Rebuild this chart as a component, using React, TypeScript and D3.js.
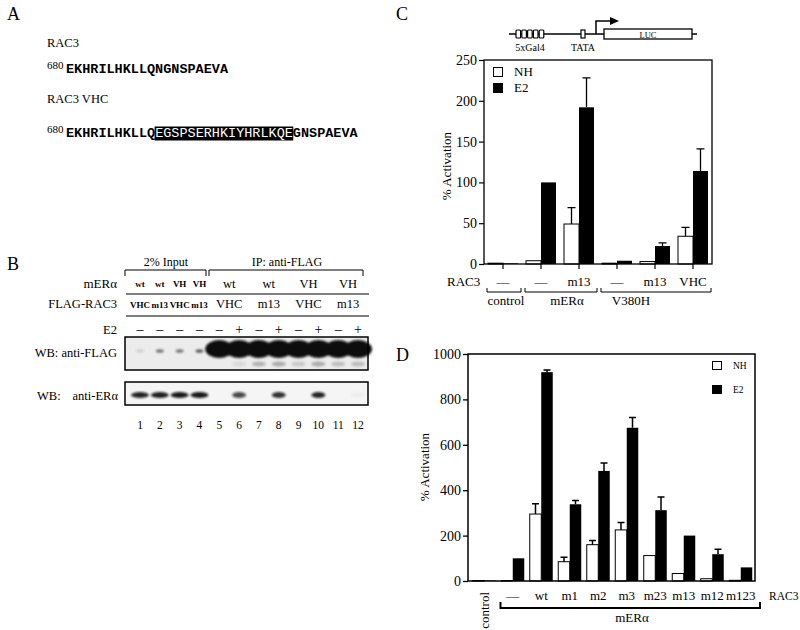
import * as d3 from "d3";
import { useEffect, useRef } from "react";

const SERIF = "'Liberation Serif', 'Times New Roman', serif";
const MONO = "'Liberation Mono', 'Courier New', monospace";

// panel A: sequences
const seqWild = "EKHRILHKLLQNGNSPAEVA";
const seqVhcHead = "EKHRILHKLLQ";
const seqVhcInsert = "EGSPSERHKIYHRLKQE";
const seqVhcTail = "GNSPAEVA";

// panel B: blot layout
const laneNumbers = [1, 2, 3, 4, 5, 6, 7, 8, 9, 10, 11, 12];
const smallMer = ["wt", "wt", "VH", "VH"];
const smallFlag = ["VHC", "m13", "VHC", "m13"];
const pairMer = ["wt", "wt", "VH", "VH"];
const pairFlag = ["VHC", "m13", "VHC", "m13"];
const e2Signs = ["–", "–", "–", "–", "–", "+", "–", "+", "–", "+", "–", "+"];
const flagBandLevels = [0.12, 0.5, 0.5, 0.6, 1, 1, 1, 1, 1, 1, 1, 1];
const flagSmearLevels = [0, 0, 0, 0, 0, 0.1, 0.3, 0.35, 0.2, 0.35, 0.25, 0.25];
const erBandLevels = [0.9, 0.92, 0.95, 0.95, 0, 0.75, 0, 0.85, 0, 0.9, 0, 0.03];

// panel C
const cGroups = ["ctl", "mer-", "mer-m13", "v-", "v-m13", "v-vhc"];
const cRac3 = ["—", "—", "m13", "—", "m13", "VHC"];
const cNH = [1, 4, 49, 1, 3, 34];
const cNHErr = [0, 0, 69, 0, 0, 45];
const cE2 = [0.8, 100, 192, 4, 22, 114];
const cE2Err = [0, 0, 228, 0, 26, 141];
const cTicks = [0, 50, 100, 150, 200, 250];

// panel D
const dGroups = ["control", "—", "wt", "m1", "m2", "m3", "m23", "m13", "m12", "m123"];
const dNH = [2, 2, 295, 85, 160, 225, 112, 33, 10, 3];
const dNHErr = [0, 0, 340, 105, 178, 258, 0, 0, 0, 0];
const dE2 = [2, 100, 920, 338, 485, 675, 312, 200, 118, 60];
const dE2Err = [0, 0, 930, 355, 520, 720, 370, 0, 140, 0];
const dTicks = [0, 200, 400, 600, 800, 1000];

function txt(g: any, x: number, y: number, s: string, size: number, anchor = "start") {
	return g
		.append("text")
		.attr("x", x)
		.attr("y", y)
		.attr("font-family", SERIF)
		.attr("font-size", size)
		.attr("text-anchor", anchor)
		.attr("fill", "#000")
		.text(s);
}

function drawPanelA(svg: any) {
	txt(svg, 7, 20, "A", 18);
	txt(svg, 47, 47, "RAC3", 12.5);
	txt(svg, 47, 69, "680", 11);
	svg.append("text")
		.attr("x", 66)
		.attr("y", 72.5)
		.attr("font-family", MONO)
		.attr("font-weight", "bold")
		.attr("font-size", 13.5)
		.text(seqWild);

	txt(svg, 47, 103, "RAC3 VHC", 12.5);
	txt(svg, 47, 133, "680", 11);
	const charW = 8.1;
	const insX = 66 + seqVhcHead.length * charW;
	svg.append("rect")
		.attr("x", insX - 0.5)
		.attr("y", 126.5)
		.attr("width", seqVhcInsert.length * charW + 1)
		.attr("height", 14)
		.attr("fill", "#000");
	const t = svg
		.append("text")
		.attr("x", 66)
		.attr("y", 137)
		.attr("font-family", MONO)
		.attr("font-weight", "bold")
		.attr("font-size", 13.5);
	t.append("tspan").text(seqVhcHead);
	t.append("tspan").attr("fill", "#fff").attr("font-weight", "normal").text(seqVhcInsert);
	t.append("tspan").text(seqVhcTail);
}

function drawPanelB(svg: any) {
	const xL = d3.scaleLinear().domain([1, 12]).range([140, 358]);
	const step = xL(2) - xL(1);

	txt(svg, 7, 270, "B", 18);
	txt(svg, 166, 266, "2% Input", 12, "middle");
	txt(svg, 287, 266, "IP: anti-FLAG", 12, "middle");
	const brackets = [
		[125, 206],
		[209, 363],
	];
	brackets.forEach(([a, b]) => {
		svg.append("path")
			.attr("d", `M${a},276V270H${b}V276`)
			.attr("fill", "none")
			.attr("stroke", "#000")
			.attr("stroke-width", 1);
	});

	// row labels
	const mer = txt(svg, 117, 288, "mER", 13, "end");
	mer.append("tspan").text("α");
	txt(svg, 117, 308, "FLAG-RAC3", 12.5, "end");
	txt(svg, 117, 334, "E2", 12.5, "end");

	svg.append("line").attr("x1", 126).attr("x2", 369).attr("y1", 294).attr("y2", 294).attr("stroke", "#000").attr("stroke-width", 1.2);
	svg.append("line").attr("x1", 126).attr("x2", 369).attr("y1", 316).attr("y2", 316).attr("stroke", "#000").attr("stroke-width", 1.2);

	smallMer.forEach((s, i) => {
		txt(svg, xL(i + 1), 287, s, 9, "middle").attr("font-weight", "bold");
	});
	smallFlag.forEach((s, i) => {
		txt(svg, xL(i + 1), 308, s, 9, "middle").attr("font-weight", "bold");
	});
	pairMer.forEach((s, i) => {
		txt(svg, xL(5 + i * 2) + step / 2, 288, s, 12.5, "middle");
	});
	pairFlag.forEach((s, i) => {
		txt(svg, xL(5 + i * 2) + step / 2, 308, s, 12.5, "middle");
	});
	e2Signs.forEach((s, i) => {
		txt(svg, xL(i + 1), 334, s, 14, "middle");
	});

	const defs = svg.append("defs");
	defs.append("filter")
		.attr("id", "blur")
		.attr("x", "-50%")
		.attr("y", "-50%")
		.attr("width", "200%")
		.attr("height", "200%")
		.append("feGaussianBlur")
		.attr("stdDeviation", 1.2);

	// anti-FLAG blot
	txt(svg, 117, 357, "WB: anti-FLAG", 12.5, "end");
	svg.append("rect").attr("x", 125).attr("y", 337).attr("width", 243).attr("height", 33).attr("fill", "#ececec");
	const fb = svg.append("g").attr("filter", "url(#blur)");
	flagBandLevels.forEach((v, i) => {
		const big = v >= 1;
		fb.append("ellipse")
			.attr("cx", xL(i + 1))
			.attr("cy", big ? 349 : 351)
			.attr("rx", big ? 14 : 4)
			.attr("ry", big ? 9 : 1.8)
			.attr("fill", "#0a0a0a")
			.attr("opacity", v);
	});
	flagSmearLevels.forEach((v, i) => {
		if (v <= 0) return;
		fb.append("ellipse")
			.attr("cx", xL(i + 1))
			.attr("cy", 364)
			.attr("rx", 7)
			.attr("ry", 2.5)
			.attr("fill", "#333")
			.attr("opacity", v);
	});
	svg.append("rect").attr("x", 125).attr("y", 337).attr("width", 243).attr("height", 33).attr("fill", "none").attr("stroke", "#000").attr("stroke-width", 1.5);

	// anti-ERa blot
	txt(svg, 37, 400, "WB:", 12.5);
	const er = txt(svg, 118, 400, "anti-ER", 12.5, "end");
	er.append("tspan").text("α");
	svg.append("rect").attr("x", 125).attr("y", 382).attr("width", 243).attr("height", 23).attr("fill", "#f5f5f5");
	const eb = svg.append("g").attr("filter", "url(#blur)");
	erBandLevels.forEach((v, i) => {
		if (v <= 0) return;
		eb.append("ellipse")
			.attr("cx", xL(i + 1))
			.attr("cy", 395)
			.attr("rx", i < 4 ? 9 : 7)
			.attr("ry", 3)
			.attr("fill", "#111")
			.attr("opacity", v);
	});
	svg.append("rect").attr("x", 125).attr("y", 382).attr("width", 243).attr("height", 23).attr("fill", "none").attr("stroke", "#000").attr("stroke-width", 1.5);

	laneNumbers.forEach((n) => {
		txt(svg, xL(n), 429, String(n), 11.5, "middle");
	});
}

function drawPanelC(svg: any) {
	const x = d3.scaleBand().domain(cGroups).range([484, 712]);
	const y = d3.scaleLinear().domain([0, 250]).range([264, 60]);
	const bw = 15;
	const center = (g: string) => (x(g) as number) + x.bandwidth() / 2;

	txt(svg, 396, 20, "C", 18);

	// promoter diagram
	const pr = svg.append("g").attr("stroke", "#000").attr("fill", "#fff");
	pr.append("line").attr("x1", 509).attr("x2", 697).attr("y1", 34).attr("y2", 34).attr("stroke-width", 1.5);
	for (let i = 0; i < 5; i++) {
		pr.append("rect").attr("x", 516 + i * 5.8).attr("y", 30).attr("width", 4.6).attr("height", 8).attr("rx", 1).attr("stroke-width", 1.2);
	}
	pr.append("rect").attr("x", 581).attr("y", 30).attr("width", 4).attr("height", 8).attr("stroke-width", 1.2);
	pr.append("rect").attr("x", 604).attr("y", 29).attr("width", 88).attr("height", 10).attr("stroke-width", 1.3);
	pr.append("path").attr("d", "M596,34V21H611").attr("fill", "none").attr("stroke-width", 1.5);
	svg.append("path").attr("d", "M610,17L619,21L610,25Z").attr("fill", "#000");
	txt(svg, 530, 51, "5xGal4", 10, "middle");
	txt(svg, 583, 51, "TATA", 10, "middle");
	txt(svg, 648, 37.5, "LUC", 8.5, "middle");

	// axis
	const ax = svg
		.append("g")
		.attr("transform", "translate(484,0)")
		.call(d3.axisLeft(y).tickValues(cTicks).tickFormat(d3.format("d")).tickSize(5).tickSizeOuter(0).tickPadding(2));
	ax.selectAll("text").attr("font-family", SERIF).attr("font-size", 14).attr("fill", "#000");
	ax.selectAll("line").attr("stroke-width", 1.2);
	ax.select(".domain").remove();

	svg.append("text")
		.attr("transform", "translate(451,166) rotate(-90)")
		.attr("text-anchor", "middle")
		.attr("font-family", SERIF)
		.attr("font-size", 13)
		.text("% Activation");

	// legend
	svg.append("rect").attr("x", 493.5).attr("y", 67.5).attr("width", 9).attr("height", 9).attr("fill", "#fff").attr("stroke", "#000");
	svg.append("rect").attr("x", 493).attr("y", 83).attr("width", 10).attr("height", 10).attr("fill", "#000");
	txt(svg, 514, 76, "NH", 13);
	txt(svg, 514, 92, "E2", 13);

	// bars
	cGroups.forEach((g, i) => {
		const c = center(g);
		svg.append("rect").attr("x", c - bw).attr("y", y(cNH[i])).attr("width", bw).attr("height", y(0) - y(cNH[i])).attr("fill", "#fff").attr("stroke", "#000").attr("stroke-width", 1);
		svg.append("rect").attr("x", c).attr("y", y(cE2[i])).attr("width", bw).attr("height", y(0) - y(cE2[i])).attr("fill", "#000");
		const errs: [number, number, number][] = [
			[c - bw / 2, cNH[i], cNHErr[i]],
			[c + bw / 2, cE2[i], cE2Err[i]],
		];
		errs.forEach(([cx, v, e]) => {
			if (!e) return;
			svg.append("path")
				.attr("d", `M${cx},${y(v)}V${y(e)}M${cx - 4},${y(e)}H${cx + 4}`)
				.attr("stroke", "#000")
				.attr("stroke-width", 1.3)
				.attr("fill", "none");
		});
		svg.append("line").attr("x1", c).attr("x2", c).attr("y1", 264).attr("y2", 269).attr("stroke", "#000").attr("stroke-width", 1.2);
		txt(svg, c, 286, cRac3[i], 13, "middle");
	});

	svg.append("rect").attr("x", 484).attr("y", 60).attr("width", 228).attr("height", 204).attr("fill", "none").attr("stroke", "#000").attr("stroke-width", 1.3);

	txt(svg, 447, 286, "RAC3", 13);
	const bracketGroups: [string, string, string, number][] = [
		["ctl", "ctl", "control", 506],
		["mer-", "mer-m13", "mERα", 567],
		["v-", "v-vhc", "V380H", 631],
	];
	bracketGroups.forEach(([a, b, label, lx]) => {
		const x0 = (x(a) as number) + 3;
		const x1 = (x(b) as number) + x.bandwidth() - 1;
		svg.append("path").attr("d", `M${x0},288V292H${x1}V288`).attr("fill", "none").attr("stroke", "#000").attr("stroke-width", 1);
		txt(svg, lx, 305, label, 13, "middle");
	});
}

function drawPanelD(svg: any) {
	const x = d3.scaleBand().domain(dGroups).range([470, 755]);
	const y = d3.scaleLinear().domain([0, 1000]).range([581, 354]);
	const bw = 11.5;
	const center = (g: string) => (x(g) as number) + x.bandwidth() / 2;

	txt(svg, 396, 361, "D", 18);

	const ax = svg
		.append("g")
		.attr("transform", "translate(468,0)")
		.call(d3.axisLeft(y).tickValues(dTicks).tickFormat(d3.format("d")).tickSize(5).tickSizeOuter(0).tickPadding(2));
	ax.selectAll("text").attr("font-family", SERIF).attr("font-size", 14).attr("fill", "#000");
	ax.selectAll("line").attr("stroke-width", 1.3);
	ax.select(".domain").remove();

	svg.append("text")
		.attr("transform", "translate(429,467) rotate(-90)")
		.attr("text-anchor", "middle")
		.attr("font-family", SERIF)
		.attr("font-size", 13)
		.text("% Activation");

	svg.append("rect").attr("x", 712.5).attr("y", 361.5).attr("width", 9).attr("height", 8).attr("fill", "#fff").attr("stroke", "#000");
	svg.append("rect").attr("x", 712).attr("y", 385).attr("width", 10).attr("height", 9).attr("fill", "#000");
	txt(svg, 733, 369, "NH", 9.5);
	txt(svg, 733, 393, "E2", 9.5);

	dGroups.forEach((g, i) => {
		const c = center(g);
		svg.append("rect").attr("x", c - bw).attr("y", y(dNH[i])).attr("width", bw).attr("height", y(0) - y(dNH[i])).attr("fill", "#fff").attr("stroke", "#000").attr("stroke-width", 1);
		svg.append("rect").attr("x", c).attr("y", y(dE2[i])).attr("width", bw).attr("height", y(0) - y(dE2[i])).attr("fill", "#000");
		const errs: [number, number, number][] = [
			[c - bw / 2, dNH[i], dNHErr[i]],
			[c + bw / 2, dE2[i], dE2Err[i]],
		];
		errs.forEach(([cx, v, e]) => {
			if (!e) return;
			svg.append("path")
				.attr("d", `M${cx},${y(v)}V${y(e)}M${cx - 3.5},${y(e)}H${cx + 3.5}`)
				.attr("stroke", "#000")
				.attr("stroke-width", 1.5)
				.attr("fill", "none");
		});
		if (g === "control") {
			svg.append("text")
				.attr("transform", `translate(${c + 5},592) rotate(-90)`)
				.attr("text-anchor", "end")
				.attr("font-family", SERIF)
				.attr("font-size", 13)
				.text(g);
		} else {
			txt(svg, c, 600, g, 13, "middle");
		}
	});

	svg.append("rect").attr("x", 468).attr("y", 354).attr("width", 287).attr("height", 227).attr("fill", "none").attr("stroke", "#000").attr("stroke-width", 1.5);

	txt(svg, 769, 600, "RAC3", 11.5);
	const bx0 = (x("—") as number) + 2;
	const bx1 = (x("m123") as number) + x.bandwidth() + 5;
	svg.append("path").attr("d", `M${bx0},602V608H${bx1}V602`).attr("fill", "none").attr("stroke", "#000").attr("stroke-width", 2);
	txt(svg, 632, 622, "mERα", 13, "middle");
}

function App() {
	const ref = useRef<SVGSVGElement>(null);

	useEffect(() => {
		const svg = d3.select(ref.current);
		svg.selectAll("*").remove();
		svg.append("rect").attr("width", 800).attr("height", 630).attr("fill", "#fff");
		drawPanelA(svg);
		drawPanelB(svg);
		drawPanelC(svg);
		drawPanelD(svg);
	}, []);

	return (
		<svg
			ref={ref}
			width={800}
			height={630}
			style={{ position: "absolute", left: 0, top: 0 }}
		></svg>
	);
}

export default App;
